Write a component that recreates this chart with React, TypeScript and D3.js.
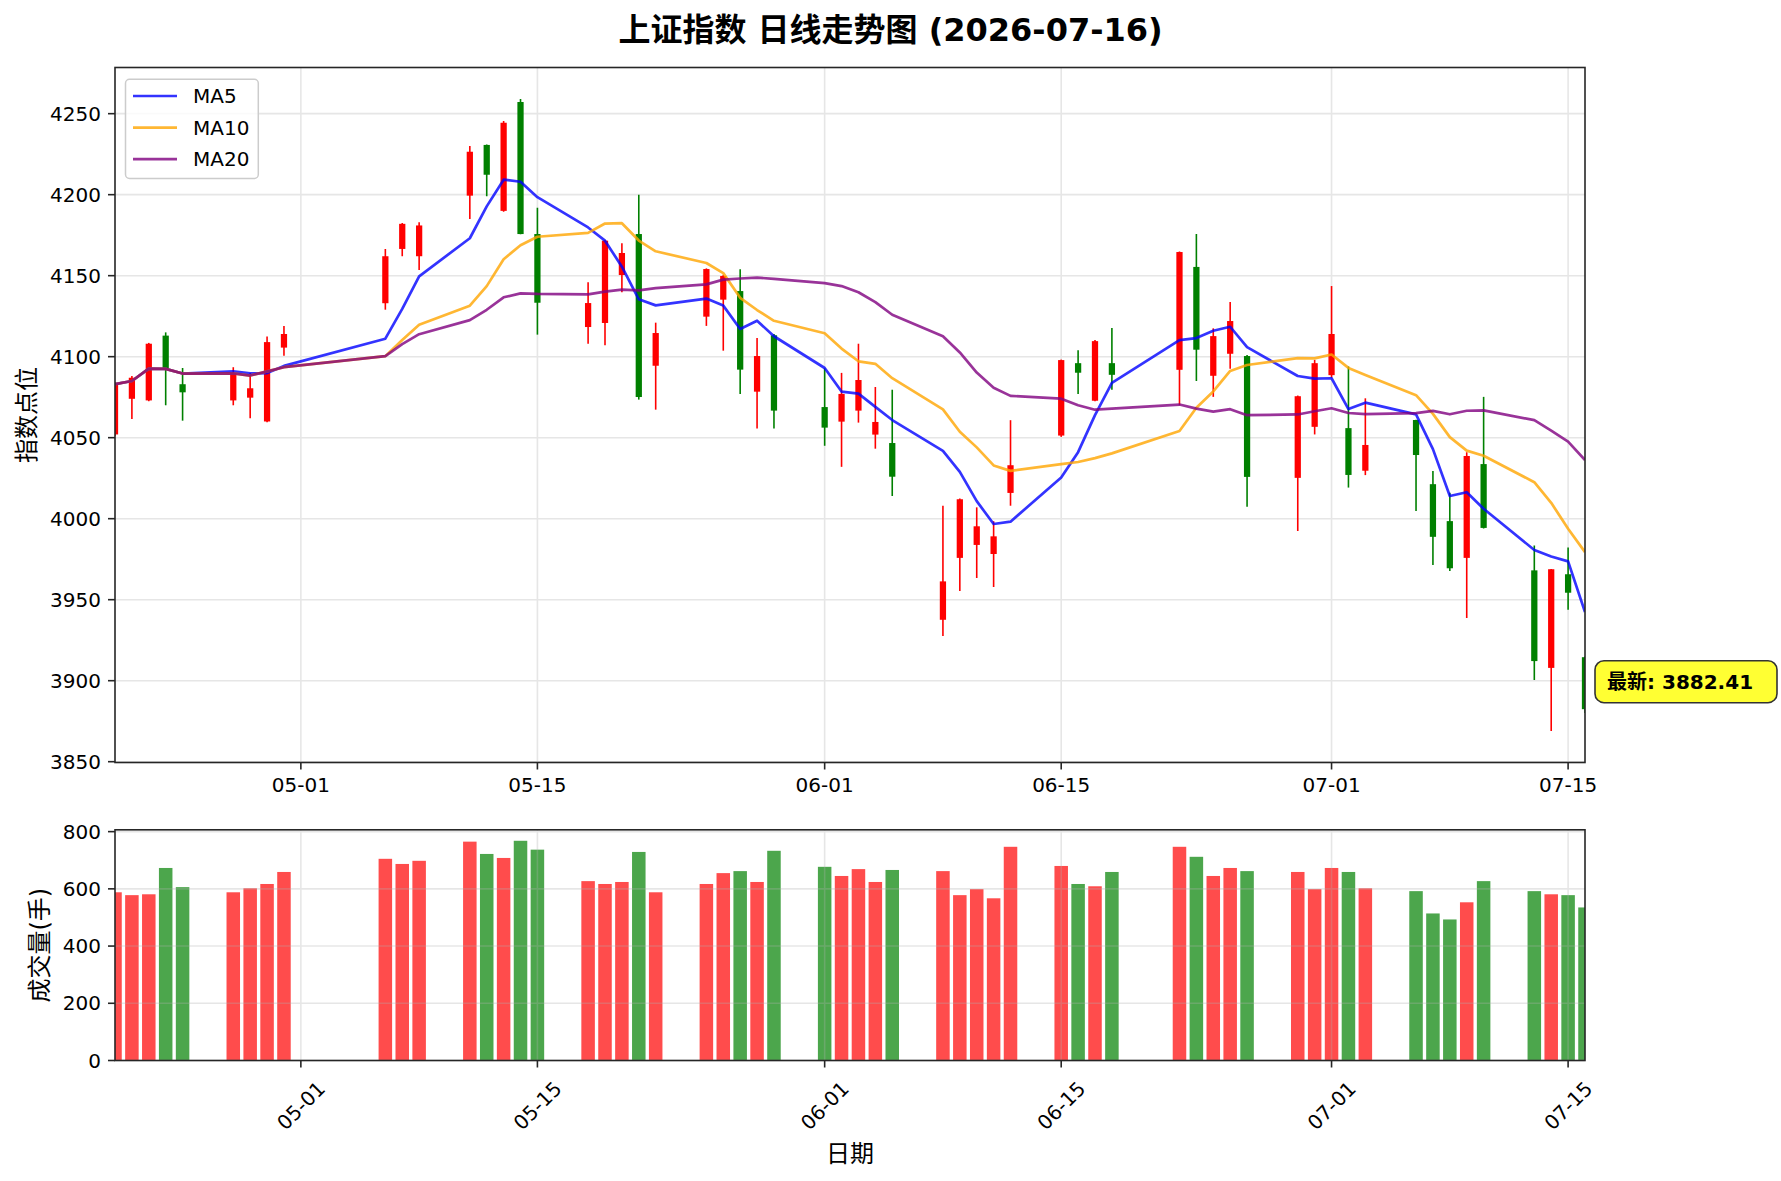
import React, { useMemo } from "react";
import * as d3 from "d3";

const W = 1781;
const H = 1181;

// trading days (weekends and holidays skipped)
const dates = [
  "2026-04-20", "2026-04-21", "2026-04-22", "2026-04-23", "2026-04-24",
  "2026-04-27", "2026-04-28", "2026-04-29", "2026-04-30",
  "2026-05-06", "2026-05-07", "2026-05-08",
  "2026-05-11", "2026-05-12", "2026-05-13", "2026-05-14", "2026-05-15",
  "2026-05-18", "2026-05-19", "2026-05-20", "2026-05-21", "2026-05-22",
  "2026-05-25", "2026-05-26", "2026-05-27", "2026-05-28", "2026-05-29",
  "2026-06-01", "2026-06-02", "2026-06-03", "2026-06-04", "2026-06-05",
  "2026-06-08", "2026-06-09", "2026-06-10", "2026-06-11", "2026-06-12",
  "2026-06-15", "2026-06-16", "2026-06-17", "2026-06-18",
  "2026-06-22", "2026-06-23", "2026-06-24", "2026-06-25", "2026-06-26",
  "2026-06-29", "2026-06-30", "2026-07-01", "2026-07-02", "2026-07-03",
  "2026-07-06", "2026-07-07", "2026-07-08", "2026-07-09", "2026-07-10",
  "2026-07-13", "2026-07-14", "2026-07-15", "2026-07-16",
];

const openP = [
  4052, 4074, 4073, 4113, 4083,
  4073, 4074.7, 4060, 4105.6,
  4133, 4166.5, 4162,
  4199.4, 4230.7, 4190, 4257.2, 4175.7,
  4118.3, 4120.8, 4150.4, 4175.7, 4094.4,
  4124.7, 4135.2, 4140.5, 4078.4, 4113.2,
  4068.9, 4059.9, 4066.7, 4051.9, 4046.7,
  3937.6, 3975.8, 3983.8, 3978.2, 4015.9,
  4051.3, 4096, 4072.8, 4096,
  4091.9, 4155.4, 4088.2, 4101.8, 4100.4,
  4025.2, 4056.7, 4088.6, 4055.9, 4029.6,
  4060.9, 4021.3, 3998.5, 3975.8, 4033.7,
  3968.1, 3907.9, 3965.7, 3914.5,
];

const highP = [
  4084, 4088, 4108.5, 4115, 4093,
  4093.5, 4090, 4112.5, 4119,
  4166.5, 4182.5, 4183,
  4230, 4231, 4245.5, 4259, 4192,
  4146, 4172, 4170, 4200, 4121,
  4154.5, 4150.5, 4154, 4111.5, 4114,
  4092.8, 4090, 4108, 4081.3, 4079.6,
  4008, 4012.5, 4007, 3998.4, 4060.8,
  4098.2, 4104, 4110.3, 4117.7,
  4165, 4175.7, 4117.5, 4133.7, 4101,
  4076, 4098, 4143.6, 4094, 4074.3,
  4061, 4029.4, 4016, 4041, 4075.2,
  3983.4, 3969, 3982.2, 3915,
];

const lowP = [
  4051, 4061.5, 4072.5, 4070, 4060.5,
  4070, 4062, 4059.5, 4100.5,
  4129, 4162, 4153.5,
  4185, 4199, 4189.5, 4175.5, 4113.6,
  4108, 4107, 4139.7, 4073.5, 4067.3,
  4119, 4103.7, 4077, 4055.6, 4055.6,
  4045, 4032, 4059.3, 4043.2, 4014,
  3927.6, 3955.4, 3963.4, 3957.8, 4008,
  4050.5, 4077, 4072.5, 4079.6,
  4070, 4085, 4075.2, 4092.5, 4007.3,
  3992.4, 4052, 4087, 4019.2, 4026.9,
  4004.8, 3971.4, 3967.7, 3938.7, 3994,
  3900.5, 3869, 3943.8, 3880,
];

const closeP = [
  4083, 4087, 4108, 4092, 4078,
  4090, 4080.5, 4109, 4114,
  4162, 4182, 4181,
  4226.5, 4212.3, 4244.4, 4175.7, 4133.3,
  4133.1, 4171.6, 4164, 4075.1, 4114.6,
  4154.1, 4149.8, 4092, 4100.4, 4066.7,
  4056.2, 4077, 4085.6, 4059.7, 4025.9,
  3961.3, 4012, 3995.3, 3989.1, 4033,
  4097.9, 4090.1, 4109.6, 4088.8,
  4164.6, 4104.3, 4112.7, 4122, 4025.8,
  4075.6, 4096, 4114, 4027, 4045.5,
  4039.3, 3988.8, 3969.4, 4038.7, 3994.3,
  3912.1, 3968.8, 3954.3, 3882.41,
];

const volume = [
  588, 578, 581, 673, 606,
  588, 602, 617, 659,
  705, 687, 698,
  765, 722, 708, 768, 737,
  627, 617, 624, 729, 588,
  617, 655, 662, 624, 733,
  677, 645, 669, 624, 666,
  662, 578, 599, 567, 747,
  680, 617, 609, 659,
  747, 712, 645, 673, 662,
  659, 599, 673, 659, 602,
  592, 514, 493, 553, 627,
  592, 581, 578, 535,
];

const tickDates = ["2026-05-01", "2026-05-15", "2026-06-01", "2026-06-15", "2026-07-01", "2026-07-15"];
const tickLabels = ["05-01", "05-15", "06-01", "06-15", "07-01", "07-15"];

const maPeriods = [5, 10, 20];
const maNames = ["MA5", "MA10", "MA20"];
const maColors = ["#0000ff", "#ffa500", "#800080"];

const titleText = "上证指数 日线走势图 (2026-07-16)";
const priceLabel = "指数点位";
const volLabel = "成交量(手)";
const dateLabel = "日期";
const lastLabel = "最新";

const FONT = "'DejaVu Sans', 'Noto Sans CJK SC', sans-serif";
const UP = "#ff0000";
const DOWN = "#008000";
const SPINE = "#262626";

// rolling mean, min_periods = 1
const rolling = (vals: number[], n: number) =>
  vals.map((_, i) => d3.mean(vals.slice(Math.max(0, i - n + 1), i + 1)) as number);

const M = { left: 115, right: 1585, top: 67.5, bottom: 762.5 };
const V = { top: 829.8, bottom: 1060.5 };

export default function App() {
  const parse = d3.utcParse("%Y-%m-%d");
  const days = dates.map((d) => parse(d) as Date);

  const x = d3.scaleUtc().domain([days[0], days[days.length - 1]]).range([M.left, M.right]);
  const dayPx = x(d3.utcDay.offset(days[0], 1)) - x(days[0]);

  const lo = d3.min(lowP) as number;
  const hi = d3.max(highP) as number;
  const pad = (hi - lo) * 0.05;
  const y = d3.scaleLinear().domain([lo - pad, hi + pad]).range([M.bottom, M.top]);
  const yv = d3.scaleLinear().domain([0, (d3.max(volume) as number) * 1.05]).range([V.bottom, V.top]);

  const yTicks = y.ticks(10);
  const vTicks = yv.ticks(5);
  const xTicks = tickDates.map((d) => parse(d) as Date);

  const mas = useMemo(() => maPeriods.map((p) => rolling(closeP, p)), []);

  const line = d3
    .line<number>()
    .x((_, i) => x(days[i]))
    .y((v) => y(v));

  const bodyW = dayPx * 0.37;
  const barW = dayPx * 0.8;

  const last = days.length - 1;
  const boxX = x(days[last]) + 10;
  const boxCy = y(closeP[last]) - 27.5;

  const grid = "#b0b0b0";

  return (
    <svg
      width={W}
      height={H}
      style={{ position: "absolute", left: 0, top: 0, background: "#fff" }}
      fontFamily={FONT}
    >
      <defs>
        <clipPath id="clipMain">
          <rect x={M.left} y={M.top} width={M.right - M.left} height={M.bottom - M.top} />
        </clipPath>
        <clipPath id="clipVol">
          <rect x={M.left} y={V.top} width={M.right - M.left} height={V.bottom - V.top} />
        </clipPath>
      </defs>
      <rect width={W} height={H} fill="#fff" />

      {/* title */}
      <text x={W / 2} y={41} textAnchor="middle" fontSize={32} fontWeight="bold">
        {titleText}
      </text>

      {/* ---- price panel ---- */}
      <g opacity={0.3} stroke={grid} strokeWidth={1.6}>
        {yTicks.map((t) => (
          <line key={`gy${t}`} x1={M.left} x2={M.right} y1={y(t)} y2={y(t)} />
        ))}
        {xTicks.map((t, i) => (
          <line key={`gx${i}`} x1={x(t)} x2={x(t)} y1={M.top} y2={M.bottom} />
        ))}
      </g>

      <g clipPath="url(#clipMain)">
        {days.map((d, i) => {
          const up = closeP[i] >= openP[i];
          const c = up ? UP : DOWN;
          const top = y(Math.max(openP[i], closeP[i]));
          const bot = y(Math.min(openP[i], closeP[i]));
          return (
            <g key={`c${i}`}>
              <line x1={x(d)} x2={x(d)} y1={y(highP[i])} y2={y(lowP[i])} stroke={c} strokeWidth={1.6} />
              <rect x={x(d) - bodyW / 2} y={top} width={bodyW} height={Math.max(bot - top, 0.8)} fill={c} />
            </g>
          );
        })}
        {mas.map((vals, k) => (
          <path
            key={`ma${k}`}
            d={line(vals) as string}
            fill="none"
            stroke={maColors[k]}
            strokeWidth={2.7}
            strokeOpacity={0.8}
            strokeLinejoin="round"
          />
        ))}
      </g>

      <rect
        x={M.left}
        y={M.top}
        width={M.right - M.left}
        height={M.bottom - M.top}
        fill="none"
        stroke={SPINE}
        strokeWidth={1.6}
      />

      {yTicks.map((t) => (
        <g key={`yt${t}`}>
          <line x1={M.left - 7} x2={M.left} y1={y(t)} y2={y(t)} stroke={SPINE} strokeWidth={1.6} />
          <text x={M.left - 14} y={y(t)} dy="0.36em" textAnchor="end" fontSize={20} fill="#000">
            {t}
          </text>
        </g>
      ))}
      {xTicks.map((t, i) => (
        <g key={`xt${i}`}>
          <line x1={x(t)} x2={x(t)} y1={M.bottom} y2={M.bottom + 7} stroke={SPINE} strokeWidth={1.6} />
          <text x={x(t)} y={792} textAnchor="middle" fontSize={20}>
            {tickLabels[i]}
          </text>
        </g>
      ))}

      <text
        transform={`translate(27, ${(M.top + M.bottom) / 2}) rotate(-90)`}
        textAnchor="middle"
        dominantBaseline="central"
        fontSize={24}
      >
        {priceLabel}
      </text>

      {/* legend */}
      <g>
        <rect x={125.5} y={79.3} width={132.8} height={99.2} rx={4} fill="#fff" fillOpacity={0.8} stroke="#cccccc" strokeWidth={1.5} />
        {maNames.map((n, k) => {
          const ly = 96 + k * 31.6;
          return (
            <g key={n}>
              <line x1={133} x2={177} y1={ly} y2={ly} stroke={maColors[k]} strokeOpacity={0.8} strokeWidth={2.7} />
              <text x={193} y={ly} dy="0.36em" fontSize={20}>
                {n}
              </text>
            </g>
          );
        })}
      </g>

      {/* last price annotation */}
      <g>
        <rect x={boxX} y={boxCy - 21} width={182} height={42} rx={9} fill="#ffff00" fillOpacity={0.8} stroke="#333" strokeWidth={1.6} />
        <text x={boxX + 12} y={boxCy} dy="0.36em" fontSize={20} fontWeight="bold">
          {`${lastLabel}: ${closeP[last].toFixed(2)}`}
        </text>
      </g>

      {/* ---- volume panel ---- */}
      <g clipPath="url(#clipVol)">
        {days.map((d, i) => (
          <rect
            key={`v${i}`}
            x={x(d) - barW / 2}
            y={yv(volume[i])}
            width={barW}
            height={V.bottom - yv(volume[i])}
            fill={closeP[i] >= openP[i] ? UP : DOWN}
            fillOpacity={0.7}
          />
        ))}
      </g>
      <g opacity={0.3} stroke={grid} strokeWidth={1.6}>
        {vTicks.map((t) => (
          <line key={`vgy${t}`} x1={M.left} x2={M.right} y1={yv(t)} y2={yv(t)} />
        ))}
        {xTicks.map((t, i) => (
          <line key={`vgx${i}`} x1={x(t)} x2={x(t)} y1={V.top} y2={V.bottom} />
        ))}
      </g>
      <rect x={M.left} y={V.top} width={M.right - M.left} height={V.bottom - V.top} fill="none" stroke={SPINE} strokeWidth={1.6} />

      {vTicks.map((t) => (
        <g key={`vt${t}`}>
          <line x1={M.left - 7} x2={M.left} y1={yv(t)} y2={yv(t)} stroke={SPINE} strokeWidth={1.6} />
          <text x={M.left - 14} y={yv(t)} dy="0.36em" textAnchor="end" fontSize={20}>
            {t}
          </text>
        </g>
      ))}
      {xTicks.map((t, i) => (
        <g key={`vxt${i}`}>
          <line x1={x(t)} x2={x(t)} y1={V.bottom} y2={V.bottom + 7} stroke={SPINE} strokeWidth={1.6} />
          <text
            transform={`translate(${x(t)}, ${V.bottom + 45}) rotate(-45)`}
            textAnchor="middle"
            dy="0.36em"
            fontSize={20}
          >
            {tickLabels[i]}
          </text>
        </g>
      ))}

      <text
        transform={`translate(40, ${(V.top + V.bottom) / 2}) rotate(-90)`}
        textAnchor="middle"
        dominantBaseline="central"
        fontSize={24}
      >
        {volLabel}
      </text>
      <text x={(M.left + M.right) / 2} y={1162} textAnchor="middle" fontSize={24}>
        {dateLabel}
      </text>
    </svg>
  );
}
